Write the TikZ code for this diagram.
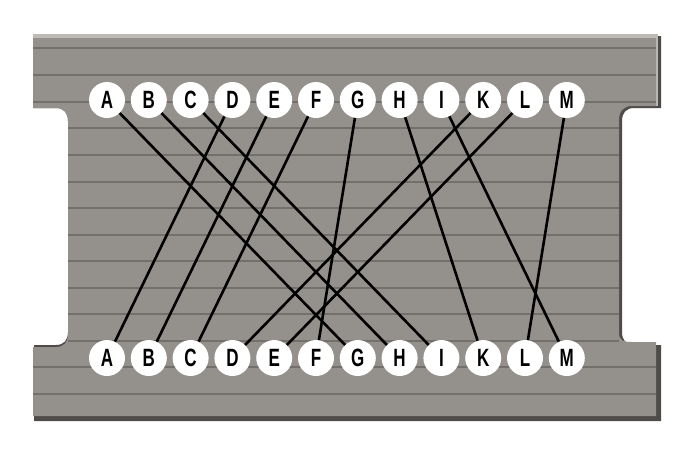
\documentclass[tikz,border=0pt]{standalone}
\usepackage{fontspec}
\setmainfont{Liberation Sans}
\definecolor{board}{RGB}{148,144,140}
\definecolor{plank}{RGB}{115,111,107}
\definecolor{edgedark}{RGB}{78,75,72}
\definecolor{edgelight}{RGB}{190,187,183}
\tikzset{
  ball/.style={circle, fill=white, minimum size=36pt, inner sep=0pt,
    font=\bfseries\fontsize{25}{25}\selectfont},
  wire/.style={line width=2.6pt, black},
  seam/.style={plank, line width=1.2pt},
}
\newcommand{\lettr}[1]{\scalebox{0.68}[1]{#1}}
\begin{document}
\begin{tikzpicture}[x=1pt,y=-1pt]
\useasboundingbox (0,0) rectangle (696,448);
\fill[white] (0,0) rectangle (696,448);
% board shadow/base
\fill[edgedark] (34,36) -- (661,36) -- (661,108) -- (634,108) .. controls (626,108) and (622,113) .. (622,121) -- (622,332) .. controls (622,340) and (626,345) .. (634,345) -- (661,345) -- (661,421) -- (34,421) -- (34,345) -- (56,345) .. controls (64,345) and (68,340) .. (68,332) -- (68,121) .. controls (68,113) and (64,108) .. (56,108) -- (34,108) -- cycle;
\fill[edgelight] (33,34) -- (658,34) -- (658,106) -- (33,106) -- cycle;
\fill[board] (33,38) -- (656,38) -- (656,106) -- (632,106) .. controls (624,106) and (619,111) .. (619,120) -- (619,333) .. controls (619,341) and (624,342) .. (632,342) -- (656,342) -- (656,416) -- (33,416) -- (33,347) -- (56,347) .. controls (64,347) and (68,342) .. (68,334) -- (68,121) .. controls (68,113) and (64,108) .. (56,108) -- (33,108) -- cycle;
% plank seams
\foreach \y in {48,75,102,367,394}{
  \draw[seam] (33,\y) -- (656,\y);
}
\foreach \y in {128,155,182,208,235,261,288,314,341}{
  \draw[seam] (68,\y) -- (619,\y);
}
% balls
\foreach \l [count=\i from 0] in {A,B,C,D,E,F,G,H,I,K,L,M}{
  \node[ball] (t\l) at ({107+41.8*\i},100) {\lettr{\l}};
  \node[ball] (b\l) at ({107+41.8*\i},358) {\lettr{\l}};
}
% wires
\foreach \a/\b in {A/G,B/H,C/I,D/A,E/B,F/C,G/F,H/K,I/M,K/D,L/E,M/L}{
  \draw[wire] (t\a) -- (b\b);
}
\end{tikzpicture}
\end{document}
